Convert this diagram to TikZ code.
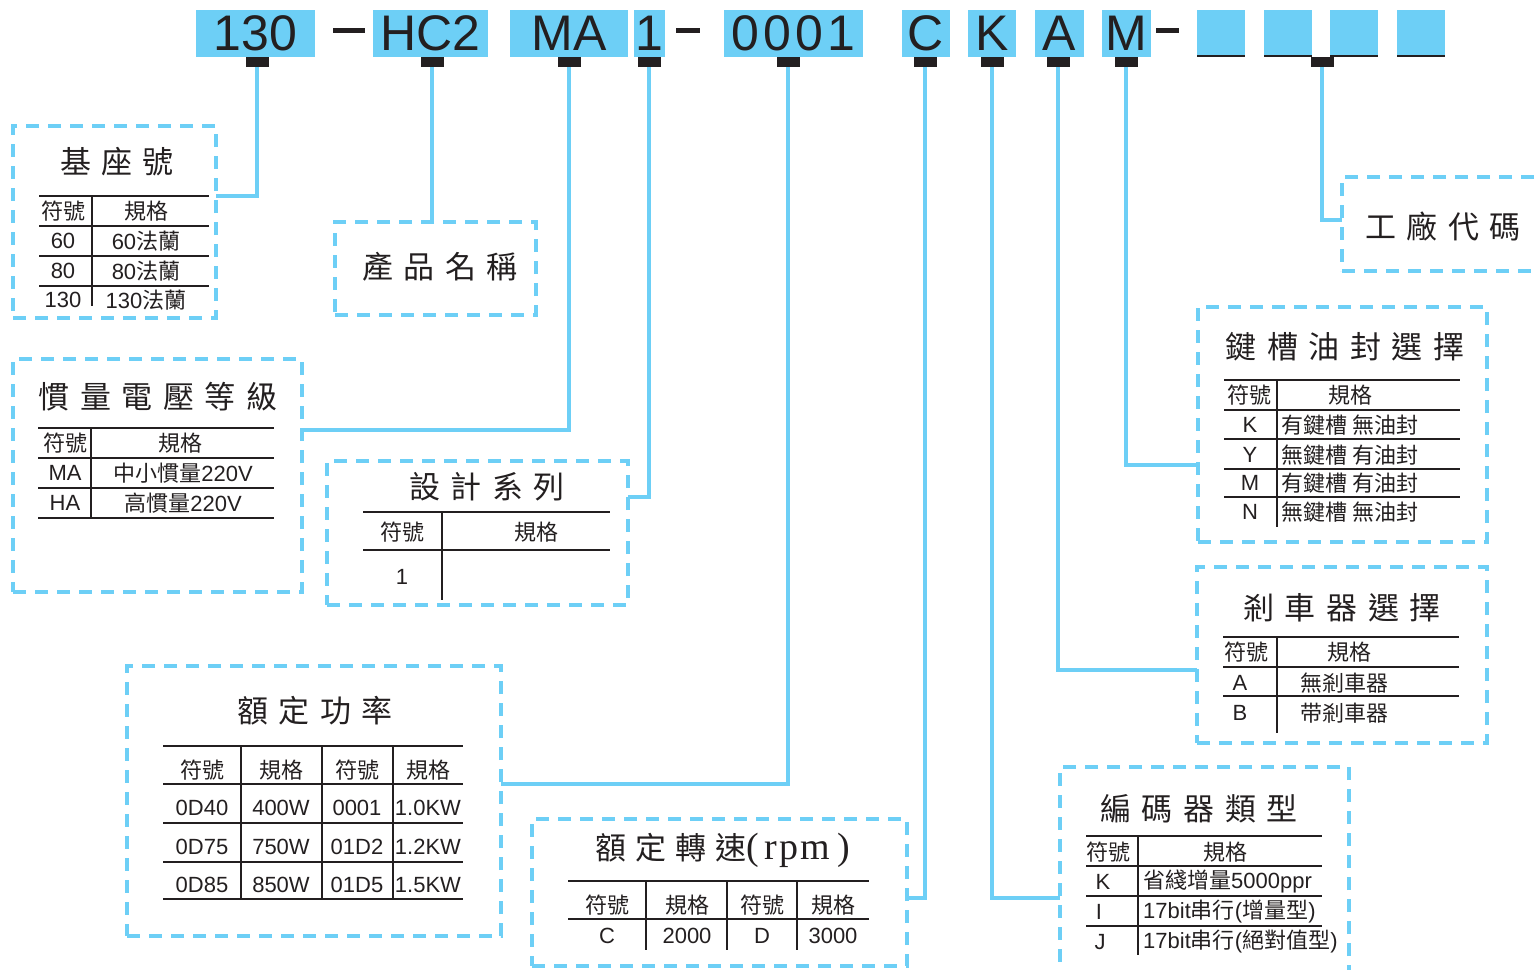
\documentclass[tikz,border=0pt]{standalone}
\usepackage{fontspec}
\setmainfont{Liberation Sans}
\newfontfamily\cjk{Noto Sans CJK TC}
\newfontfamily\serifrm{Liberation Serif}
\definecolor{lb}{HTML}{6DCFF6}
\definecolor{ink}{HTML}{231F20}
\newcommand\tg{\hspace{10.5pt}}
\tikzset{
 dbox/.style={draw=lb, line width=4pt, dash pattern=on 13pt off 9pt, inner sep=0, outer sep=0, anchor=north west},
 tab/.style={fill=ink, minimum width=23pt, minimum height=10pt, inner sep=0, outer sep=0, anchor=north},
 topbox/.style={fill=lb, minimum height=47pt, inner sep=0, outer sep=0, text=ink, anchor=north west, font=\fontsize{50}{50}\selectfont},
 blankbox/.style={fill=lb, minimum height=47pt, minimum width=48pt, inner sep=0, outer sep=0, anchor=north west},
 conn/.style={draw=lb, line width=4pt},
 tline/.style={draw=ink, line width=2.5pt},
 uline/.style={draw=ink, line width=2pt},
 ttl/.style={text=ink, inner sep=0, font=\cjk\fontsize{31}{31}\selectfont},
 cell/.style={text=ink, inner sep=0, font=\fontsize{22}{22}\selectfont},
 ccell/.style={text=ink, inner sep=0, font=\cjk\fontsize{22}{22}\selectfont},
 hbar/.style={fill=ink, inner sep=0, outer sep=0, minimum height=5pt},
}
\begin{document}
\begin{tikzpicture}[x=1pt,y=-1pt]
\useasboundingbox (0,0) rectangle (1538,969);
\clip (0,0) rectangle (1538,969);

% ---------- top code ----------
\node[topbox, minimum width=119pt] (k130) at (196,10) {130};
\node[hbar, minimum width=32pt] (d1) at (349,30) {};
\node[topbox, minimum width=115pt] (khc) at (373,10) {HC2};
\node[topbox, minimum width=118pt] (kma) at (510,10) {MA};
\node[topbox, minimum width=31pt] (kone) at (634,10) {1};
\node[hbar, minimum width=24pt] (d2) at (688,30) {};
\node[topbox, minimum width=139pt] (kzero) at (724,10) {0\kern4pt 0\kern4pt 0\kern4pt 1};
\node[topbox, minimum width=48pt] (kc) at (902,10) {C};
\node[topbox, minimum width=48pt] (kk) at (968,10) {K};
\node[topbox, minimum width=49pt] (ka) at (1035,10) {A};
\node[topbox, minimum width=49pt] (km) at (1102,10) {M};
\node[hbar, minimum width=23pt] (d3) at (1167,30) {};
\node[blankbox] (bl1) at (1197,10) {};
\node[blankbox] (bl2) at (1264,10) {};
\node[blankbox] (bl3) at (1330,10) {};
\node[blankbox] (bl4) at (1397,10) {};
\foreach \b in {bl1,bl2,bl3,bl4}{
  \draw[uline] ([yshift=1pt]\b.south west) -- ([yshift=1pt]\b.south east);
}

% ---------- tabs ----------
\node[tab] (t130) at (257,57) {};
\node[tab] (thc) at (432,57) {};
\node[tab] (tma) at (569,57) {};
\node[tab] (tone) at (649,57) {};
\node[tab] (tzero) at (788,57) {};
\node[tab] (tc) at (925,57) {};
\node[tab] (tk) at (992,57) {};
\node[tab] (ta) at (1058,57) {};
\node[tab] (tm) at (1126,57) {};
\node[tab] (tbl) at (1322,57) {};

% ---------- dashed boxes ----------
\node[dbox, minimum width=203pt, minimum height=192pt] (bbase) at (13,126) {};
\node[dbox, minimum width=289pt, minimum height=233pt] (binert) at (13,359) {};
\node[dbox, minimum width=201pt, minimum height=93pt] (bname) at (335,222) {};
\node[dbox, minimum width=301pt, minimum height=144pt] (bdesign) at (327,461) {};
\node[dbox, minimum width=374pt, minimum height=270pt] (bpower) at (127,666) {};
\node[dbox, minimum width=375pt, minimum height=147pt] (bspeed) at (532,819) {};
\node[dbox, minimum width=289pt, minimum height=230pt] (benc) at (1060,767) {};
\node[dbox, minimum width=290pt, minimum height=176pt] (bbrake) at (1197,567) {};
\node[dbox, minimum width=289pt, minimum height=235pt] (bkey) at (1198,307) {};
\node[dbox, minimum width=203pt, minimum height=94pt] (bfac) at (1342,177) {};

% ---------- connectors ----------
\coordinate (e1) at (216,196);
\coordinate (e2) at (432,222);
\coordinate (e3) at (302,430);
\coordinate (e4) at (628,497);
\coordinate (e5) at (501,784);
\coordinate (e6) at (907,898);
\coordinate (e7) at (1060,898);
\coordinate (e8) at (1197,670);
\coordinate (e9) at (1198,465);
\coordinate (e10) at (1342,220);
\draw[conn] (t130.south) |- (e1);
\draw[conn] (thc.south) -- (e2);
\draw[conn] (tma.south) |- (e3);
\draw[conn] (tone.south) |- (e4);
\draw[conn] (tzero.south) |- (e5);
\draw[conn] (tc.south) |- (e6);
\draw[conn] (tk.south) |- (e7);
\draw[conn] (ta.south) |- (e8);
\draw[conn] (tm.south) |- (e9);
\draw[conn] (tbl.south) |- (e10);

% ---------- 基座號 ----------
\node[ttl] (h1) at (117,162) {基\tg 座\tg 號};
\foreach \y in {196,226,256,286} \draw[tline] (39,\y) -- (209,\y);
\draw[tline] (92,196) -- (92,306);
\node[ccell] (a11) at (63,211) {符號};
\node[ccell] (a12) at (146,211) {規格};
\node[cell] (a21) at (63,241) {60};
\node[cell] (a22) at (146,241) {60{\cjk 法蘭}};
\node[cell] (a31) at (63,271) {80};
\node[cell] (a32) at (146,271) {80{\cjk 法蘭}};
\node[cell] (a41) at (63,300) {130};
\node[cell] (a42) at (146,300) {130{\cjk 法蘭}};

% ---------- 慣量電壓等級 ----------
\node[ttl] (h2) at (158,397) {慣\tg 量\tg 電\tg 壓\tg 等\tg 級};
\foreach \y in {428,458,488,518} \draw[tline] (38,\y) -- (274,\y);
\draw[tline] (91,428) -- (91,518);
\node[ccell] (b11) at (65,443) {符號};
\node[ccell] (b12) at (180,443) {規格};
\node[cell] (b21) at (65,473) {MA};
\node[cell] (b22) at (183,473) {{\cjk 中小慣量}220V};
\node[cell] (b31) at (65,503) {HA};
\node[cell] (b32) at (183,503) {{\cjk 高慣量}220V};

% ---------- 產品名稱 ----------
\node[ttl] (h3) at (440,267) {產\tg 品\tg 名\tg 稱};

% ---------- 設計系列 ----------
\node[ttl] (h4) at (487,487) {設\tg 計\tg 系\tg 列};
\foreach \y in {512,550} \draw[tline] (363,\y) -- (610,\y);
\draw[tline] (442,512) -- (442,600);
\node[ccell] (c11) at (402,532) {符號};
\node[ccell] (c12) at (536,532) {規格};
\node[cell] (c21) at (402,577) {1};

% ---------- 額定功率 ----------
\node[ttl] (h5) at (315,711) {額\tg 定\tg 功\tg 率};
\foreach \y in {746,784,823,862,899} \draw[tline] (163,\y) -- (463,\y);
\foreach \x in {241,322,393} \draw[tline] (\x,746) -- (\x,899);
\node[ccell] (p11) at (202,770) {符號};
\node[ccell] (p12) at (281,770) {規格};
\node[ccell] (p13) at (357,770) {符號};
\node[ccell] (p14) at (428,770) {規格};
\node[cell] (p21) at (202,808) {0D40};
\node[cell] (p22) at (281,808) {400W};
\node[cell] (p23) at (357,808) {0001};
\node[cell] (p24) at (428,808) {1.0KW};
\node[cell] (p31) at (202,847) {0D75};
\node[cell] (p32) at (281,847) {750W};
\node[cell] (p33) at (357,847) {01D2};
\node[cell] (p34) at (428,847) {1.2KW};
\node[cell] (p41) at (202,885) {0D85};
\node[cell] (p42) at (281,885) {850W};
\node[cell] (p43) at (357,885) {01D5};
\node[cell] (p44) at (428,885) {1.5KW};

% ---------- 額定轉速(rpm) ----------
\node[ttl] (h6) at (723,850) {額\hspace{9pt}定\hspace{9pt}轉\hspace{9pt}速{\serifrm\fontsize{38}{38}\selectfont(\kern5pt r\kern2pt p\kern2pt m\kern8pt)}};
\foreach \y in {881,919} \draw[tline] (568,\y) -- (869,\y);
\foreach \x in {646,727,797} \draw[tline] (\x,881) -- (\x,950);
\node[ccell] (s11) at (607,905) {符號};
\node[ccell] (s12) at (687,905) {規格};
\node[ccell] (s13) at (762,905) {符號};
\node[ccell] (s14) at (833,905) {規格};
\node[cell] (s21) at (607,936) {C};
\node[cell] (s22) at (687,936) {2000};
\node[cell] (s23) at (762,936) {D};
\node[cell] (s24) at (833,936) {3000};

% ---------- 編碼器類型 ----------
\node[ttl] (h7) at (1199,809) {編\tg 碼\tg 器\tg 類\tg 型};
\foreach \y in {836,866,896,926} \draw[tline] (1086,\y) -- (1322,\y);
\draw[tline] (1138,836) -- (1138,955);
\node[ccell] (n11) at (1108,852) {符號};
\node[ccell] (n12) at (1225,852) {規格};
\node[cell] (n21) at (1103,882) {K};
\node[cell, anchor=west] (n22) at (1143,882) {{\cjk 省綫增量}5000ppr};
\node[cell] (n31) at (1099,912) {I};
\node[cell, anchor=west] (n32) at (1143,912) {17bit{\cjk 串行}({\cjk 增量型})};
\node[cell] (n41) at (1100,942) {J};
\node[cell, anchor=west] (n42) at (1143,942) {17bit{\cjk 串行}({\cjk 絕對值型})};

% ---------- 剎車器選擇 ----------
\node[ttl] (h8) at (1342,608) {剎\tg 車\tg 器\tg 選\tg 擇};
\foreach \y in {637,667,696} \draw[tline] (1223,\y) -- (1459,\y);
\draw[tline] (1277,637) -- (1277,733);
\node[ccell] (r11) at (1246,652) {符號};
\node[ccell] (r12) at (1349,652) {規格};
\node[cell] (r21) at (1240,683) {A};
\node[ccell] (r22) at (1344,683) {無剎車器};
\node[cell] (r31) at (1240,713) {B};
\node[ccell] (r32) at (1344,713) {带剎車器};

% ---------- 鍵槽油封選擇 ----------
\node[ttl] (h9) at (1345,347) {鍵\tg 槽\tg 油\tg 封\tg 選\tg 擇};
\foreach \y in {380,410,439,469,497} \draw[tline] (1224,\y) -- (1460,\y);
\draw[tline] (1277,380) -- (1277,527);
\node[ccell] (m11) at (1249,395) {符號};
\node[ccell] (m12) at (1350,395) {規格};
\node[cell] (m21) at (1250,425) {K};
\node[ccell, anchor=west] (m22) at (1281,425) {有鍵槽 無油封};
\node[cell] (m31) at (1250,455) {Y};
\node[ccell, anchor=west] (m32) at (1281,455) {無鍵槽 有油封};
\node[cell] (m41) at (1250,483) {M};
\node[ccell, anchor=west] (m42) at (1281,483) {有鍵槽 有油封};
\node[cell] (m51) at (1250,512) {N};
\node[ccell, anchor=west] (m52) at (1281,512) {無鍵槽 無油封};

% ---------- 工廠代碼 ----------
\node[ttl] (h10) at (1443,226) {工\tg 廠\tg 代\tg 碼};
\end{tikzpicture}
\end{document}
